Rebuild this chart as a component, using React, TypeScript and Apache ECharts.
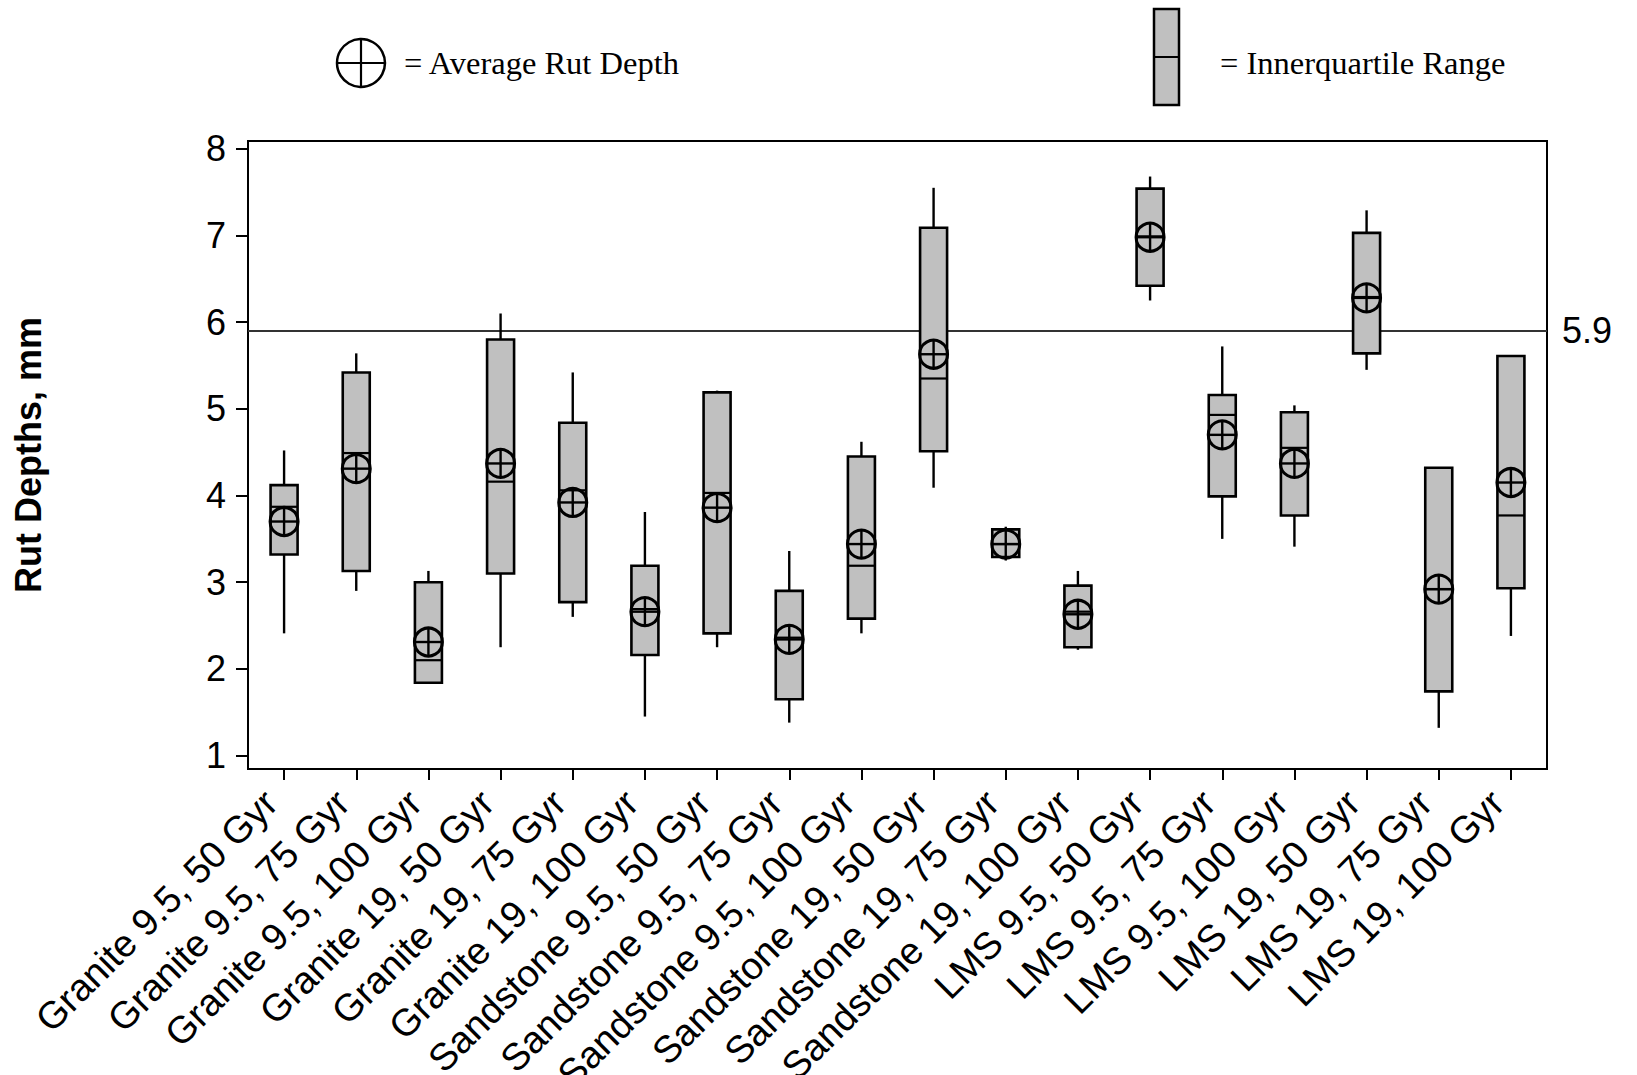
import React, { useEffect, useRef } from "react";
import * as echarts from "echarts";

const categories = [
  "Granite 9.5, 50 Gyr",
  "Granite 9.5, 75 Gyr",
  "Granite 9.5, 100 Gyr",
  "Granite 19, 50 Gyr",
  "Granite 19, 75 Gyr",
  "Granite 19, 100 Gyr",
  "Sandstone 9.5, 50 Gyr",
  "Sandstone 9.5, 75 Gyr",
  "Sandstone 9.5, 100 Gyr",
  "Sandstone 19, 50 Gyr",
  "Sandstone 19, 75 Gyr",
  "Sandstone 19, 100 Gyr",
  "LMS 9.5, 50 Gyr",
  "LMS 9.5, 75 Gyr",
  "LMS 9.5, 100 Gyr",
  "LMS 19, 50 Gyr",
  "LMS 19, 75 Gyr",
  "LMS 19, 100 Gyr",
];

const whiskerMax = [4.52, 5.64, 3.13, 6.1, 5.42, 3.81, 5.21, 3.36, 4.62, 7.55, 3.64, 3.13, 7.68, 5.72, 5.04, 7.29, 4.32, 5.61];
const q3 = [4.12, 5.42, 3.0, 5.8, 4.84, 3.19, 5.19, 2.9, 4.45, 7.09, 3.61, 2.96, 7.54, 5.16, 4.96, 7.03, 4.32, 5.61];
const median = [3.87, 4.49, 2.1, 4.16, 4.06, 2.69, 4.03, 2.36, 3.19, 5.35, 3.44, 2.66, 6.99, 4.93, 4.55, 6.29, 2.92, 3.77];
const mean = [3.7, 4.31, 2.31, 4.37, 3.92, 2.66, 3.86, 2.34, 3.44, 5.63, 3.44, 2.63, 6.98, 4.7, 4.37, 6.28, 2.92, 4.15];
const q1 = [3.32, 3.13, 1.84, 3.1, 2.77, 2.16, 2.41, 1.65, 2.58, 4.51, 3.29, 2.25, 6.42, 3.99, 3.77, 5.64, 1.74, 2.93];
const whiskerMin = [2.41, 2.9, 1.84, 2.25, 2.6, 1.45, 2.25, 1.38, 2.41, 4.09, 3.25, 2.22, 6.25, 3.5, 3.41, 5.45, 1.32, 2.38];

const yTicks = [1, 2, 3, 4, 5, 6, 7, 8];
const referenceValue = 5.9;
const legendMeanText = "= Average Rut Depth";
const legendBoxText = "= Innerquartile Range";
const yAxisTitle = "Rut Depths, mm";

export default function App() {
  const ref = useRef<HTMLDivElement>(null);

  useEffect(() => {
    document.body.style.margin = "0";
    const chart = echarts.init(ref.current!, null, { renderer: "svg" });

    const data = categories.map((_, i) => [
      i,
      whiskerMax[i],
      q3[i],
      median[i],
      q1[i],
      whiskerMin[i],
      mean[i],
    ]);

    const black = "#000";
    const halfW = 13.5;
    const r = 14;

    const option: any = {
      animation: false,
      backgroundColor: "#fff",
      grid: {
        left: 248,
        right: 90,
        top: 141,
        bottom: 306,
        containLabel: false,
        outerBoundsMode: "none",
        show: true,
        borderColor: black,
        borderWidth: 2,
        backgroundColor: "transparent",
      },
      xAxis: {
        type: "category",
        data: categories,
        boundaryGap: true,
        axisLine: { show: true, lineStyle: { color: black, width: 2 } },
        axisTick: {
          show: true,
          alignWithLabel: true,
          length: 11,
          lineStyle: { color: black, width: 2 },
        },
        axisLabel: {
          interval: 0,
          rotate: 45,
          margin: 41,
          verticalAlign: "bottom",
          fontSize: 38,
          fontFamily: "Liberation Sans",
          color: black,
        },
        splitLine: { show: false },
      },
      yAxis: {
        type: "value",
        min: 0.845,
        max: 8.09,
        name: yAxisTitle,
        nameLocation: "middle",
        nameGap: 202,
        nameTextStyle: {
          fontSize: 36,
          fontWeight: "bold",
          fontFamily: "Liberation Sans",
          color: black,
        },
        axisLine: { show: true, lineStyle: { color: black, width: 2 } },
        axisTick: {
          show: true,
          length: 12,
          customValues: yTicks,
          lineStyle: { color: black, width: 2 },
        },
        axisLabel: {
          customValues: yTicks,
          margin: 22,
          fontSize: 36,
          fontFamily: "Liberation Sans",
          color: black,
        },
        splitLine: { show: false },
      },
      series: [
        {
          type: "line",
          data: [],
          z: 1,
          silent: true,
          markLine: {
            silent: true,
            symbol: "none",
            lineStyle: { color: "#333", width: 2, type: "solid" },
            label: {
              show: true,
              position: "end",
              distance: 15,
              formatter: String(referenceValue),
              fontSize: 36,
              fontFamily: "Liberation Sans",
              color: black,
            },
            data: [{ yAxis: referenceValue }],
          },
        },
        {
          type: "custom",
          z: 5,
          data,
          encode: { x: 0, y: [1, 2, 3, 4, 5, 6] },
          renderItem: (params: any, api: any) => {
            const idx = api.value(0);
            const x = api.coord([idx, 0])[0];
            const yMax = api.coord([idx, api.value(1)])[1];
            const yQ3 = api.coord([idx, api.value(2)])[1];
            const yMed = api.coord([idx, api.value(3)])[1];
            const yQ1 = api.coord([idx, api.value(4)])[1];
            const yMin = api.coord([idx, api.value(5)])[1];
            const yMean = api.coord([idx, api.value(6)])[1];
            const lineStyle = { stroke: black, lineWidth: 2.4 };
            return {
              type: "group",
              children: [
                { type: "line", shape: { x1: x, y1: yMax, x2: x, y2: yQ3 }, style: lineStyle },
                { type: "line", shape: { x1: x, y1: yQ1, x2: x, y2: yMin }, style: lineStyle },
                {
                  type: "rect",
                  shape: { x: x - halfW, y: yQ3, width: halfW * 2, height: Math.max(yQ1 - yQ3, 0.5) },
                  style: { fill: "#c0c0c0", stroke: black, lineWidth: 2.6 },
                },
                { type: "line", shape: { x1: x - halfW, y1: yMed, x2: x + halfW, y2: yMed }, style: { stroke: black, lineWidth: 2.2 } },
                {
                  type: "circle",
                  shape: { cx: x, cy: yMean, r },
                  style: { fill: "none", stroke: black, lineWidth: 3 },
                },
                { type: "line", shape: { x1: x - r, y1: yMean, x2: x + r, y2: yMean }, style: lineStyle },
                { type: "line", shape: { x1: x, y1: yMean - r, x2: x, y2: yMean + r }, style: lineStyle },
              ],
            };
          },
        },
      ],
      graphic: [
        {
          type: "circle",
          shape: { cx: 361, cy: 63, r: 24 },
          style: { fill: "none", stroke: black, lineWidth: 2.5 },
        },
        { type: "line", shape: { x1: 337, y1: 63, x2: 385, y2: 63 }, style: { stroke: black, lineWidth: 2.2 } },
        { type: "line", shape: { x1: 361, y1: 39, x2: 361, y2: 87 }, style: { stroke: black, lineWidth: 2.2 } },
        {
          type: "text",
          x: 404,
          y: 63,
          style: {
            text: legendMeanText,
            fontSize: 32.5,
            fontFamily: "Liberation Serif",
            fill: black,
            textVerticalAlign: "middle",
            verticalAlign: "middle",
          },
        },
        {
          type: "rect",
          shape: { x: 1154, y: 9, width: 25, height: 96 },
          style: { fill: "#c0c0c0", stroke: black, lineWidth: 2.5 },
        },
        { type: "line", shape: { x1: 1154, y1: 57, x2: 1179, y2: 57 }, style: { stroke: black, lineWidth: 2 } },
        {
          type: "text",
          x: 1220,
          y: 63,
          style: {
            text: legendBoxText,
            fontSize: 32.5,
            fontFamily: "Liberation Serif",
            fill: black,
            textVerticalAlign: "middle",
            verticalAlign: "middle",
          },
        },
      ],
    };

    chart.setOption(option);
    return () => chart.dispose();
  }, []);

  return <div ref={ref} style={{ width: 1637, height: 1075 }} />;
}
